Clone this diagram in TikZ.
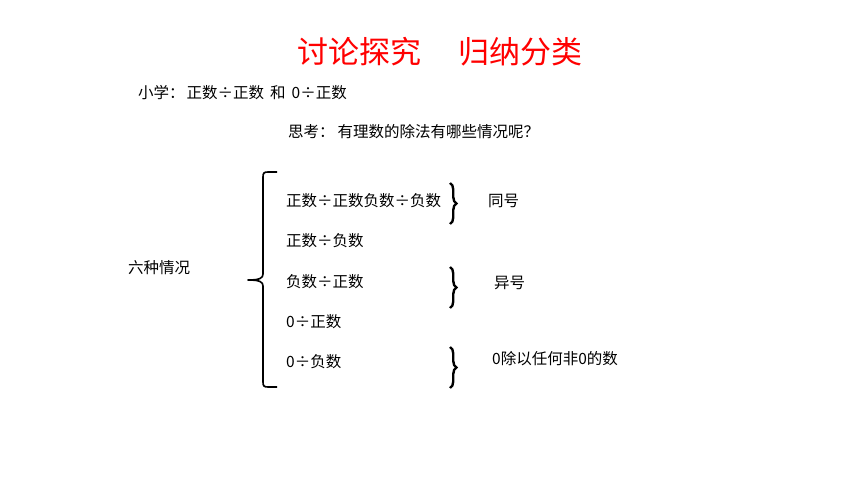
\documentclass[tikz,border=0pt]{standalone}
\usepackage{fontspec}
\newfontfamily\cjk{Noto Sans CJK SC}
\usetikzlibrary{decorations.pathreplacing}
\tikzset{
  txt/.style={font=\cjk\fontsize{15.5}{18}\selectfont, anchor=west, inner sep=0pt},
  ttl/.style={font=\cjk\fontsize{31}{36}\selectfont, text=red, inner sep=0pt},
  sbrace/.style={decorate, decoration={brace, amplitude=6.5pt}, line width=2.4pt},
  bbrace/.style={line width=1.6pt, line join=round}
}
\begin{document}
\begin{tikzpicture}[x=1pt,y=-1pt]
\useasboundingbox (0,0) rectangle (860,484);
\node[ttl] (title) at (440,52) {讨论探究\hspace{37pt}归纳分类};
\node[txt] (xx) at (138,93) {小学：\hspace{2pt}正数÷正数\hspace{6pt}和\hspace{6pt}0÷正数};
\node[txt] (sk) at (288,132) {思考：\hspace{3pt}有理数的除法有哪些情况呢？};
\node[txt] (six) at (128,268) {六种情况};
\node[txt] (r1) at (286,201) {正数÷正数负数÷负数};
\node[txt] (r2) at (286,241) {正数÷负数};
\node[txt] (r3) at (286,282) {负数÷正数};
\node[txt] (r4) at (286,322) {0÷正数};
\node[txt] (r5) at (286,362) {0÷负数};
\node[txt] (l1) at (488,201) {同号};
\node[txt] (l2) at (494,283) {异号};
\node[txt] (l3) at (492,359) {0除以任何非0的数};
% big brace
\draw[bbrace] (277,172) -- (268,172) .. controls (264,172) and (263,173) .. (263,177)
  -- (263,274) .. controls (263,278) and (260,280) .. (248,280)
  .. controls (260,280) and (263,282) .. (263,286)
  -- (263,382) .. controls (263,386) and (264,387) .. (268,387) -- (277,387);
% small braces
\draw[sbrace] (450,183) -- (450,224);
\draw[sbrace] (450,267) -- (450,308);
\draw[sbrace] (450,347) -- (450,388);
\end{tikzpicture}
\end{document}
